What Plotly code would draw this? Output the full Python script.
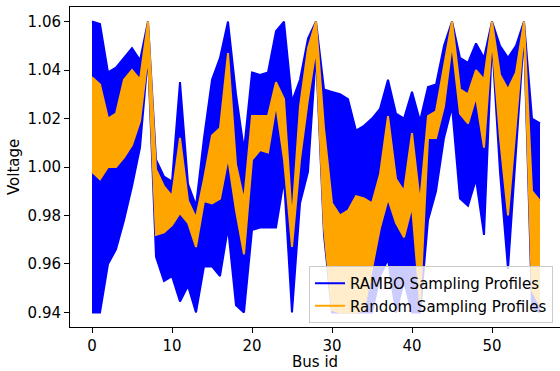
import plotly.graph_objects as go

bus_ids = list(range(57))

# RAMBO sampling profiles: upper / lower envelope of the blue bundle
rambo_upper = [1.060, 1.059, 1.039, 1.041, 1.045, 1.049, 1.044, 1.060, 1.003, 0.996,
               0.994, 1.035, 0.993, 0.984, 1.012, 1.036, 1.045, 1.060, 1.030, 1.007,
               1.039, 1.038, 1.039, 1.056, 1.060, 1.027, 1.036, 1.053, 1.060, 1.032,
               1.031, 1.030, 1.028, 1.015, 1.017, 1.020, 1.024, 1.036, 1.022, 1.020,
               1.031, 1.019, 1.033, 1.034, 1.050, 1.060, 1.045, 1.043, 1.051, 1.045,
               1.060, 1.050, 1.045, 1.050, 1.060, 1.020, 1.018]
rambo_lower = [0.940, 0.940, 0.960, 0.966, 0.978, 0.992, 1.008, 1.046, 0.963, 0.953,
               0.955, 0.9445, 0.951, 0.940, 0.959, 0.959, 0.955, 0.975, 0.943, 0.940,
               0.974, 0.975, 0.975, 0.975, 0.995, 0.940, 0.985, 0.998, 1.047, 0.972,
               0.940, 0.940, 0.940, 0.940, 0.940, 0.940, 0.955, 0.962, 0.940, 0.953,
               0.940, 0.940, 0.978, 0.990, 1.012, 1.025, 0.987, 0.984, 0.995, 0.972,
               1.052, 0.998, 0.958, 1.008, 1.055, 0.942, 0.940]

# Random sampling profiles: upper / lower envelope of the orange bundle
random_upper = [1.037, 1.034, 1.020, 1.022, 1.036, 1.040, 1.036, 1.060, 0.999, 0.992,
                0.988, 1.012, 0.986, 0.979, 0.995, 1.013, 1.016, 1.047, 1.001, 0.986,
                1.021, 1.021, 1.021, 1.035, 1.028, 0.978, 1.025, 1.049, 1.060, 1.016,
                0.985, 0.980, 0.982, 0.988, 0.987, 0.985, 0.997, 1.021, 0.995, 0.990,
                1.014, 0.985, 1.021, 1.023, 1.042, 1.060, 1.032, 1.030, 1.040, 1.036,
                1.060, 1.038, 1.032, 1.039, 1.060, 0.990, 0.986]
random_lower = [0.998, 0.995, 1.000, 1.000, 1.004, 1.009, 1.019, 1.046, 0.972, 0.973,
                0.976, 0.981, 0.977, 0.967, 0.986, 0.985, 0.987, 1.004, 0.982, 0.964,
                1.003, 1.007, 1.006, 1.026, 1.003, 0.967, 1.003, 1.028, 1.049, 0.975,
                0.941, 0.940, 0.940, 0.940, 0.941, 0.958, 0.975, 0.987, 0.977, 0.971,
                0.984, 0.944, 1.012, 1.012, 1.025, 1.051, 1.022, 1.018, 1.029, 1.008,
                1.053, 1.012, 0.980, 1.018, 1.057, 0.949, 0.943]

x_ticks = [0, 10, 20, 30, 40, 50]
y_ticks = [0.94, 0.96, 0.98, 1.00, 1.02, 1.04, 1.06]

BLUE = "#0000ff"
ORANGE = "#ffa500"
FONT = "DejaVu Sans"
FS = 15

fig = go.Figure()
fig.add_trace(go.Scatter(x=bus_ids, y=rambo_upper, mode="lines",
                         line=dict(color=BLUE, width=2),
                         name="RAMBO Sampling Profiles", showlegend=True))
fig.add_trace(go.Scatter(x=bus_ids, y=rambo_lower, mode="lines",
                         line=dict(color=BLUE, width=2), fill="tonexty",
                         fillcolor=BLUE, showlegend=False, hoverinfo="skip"))
fig.add_trace(go.Scatter(x=bus_ids, y=random_upper, mode="lines",
                         line=dict(color=ORANGE, width=2),
                         name="Random Sampling Profiles", showlegend=True))
fig.add_trace(go.Scatter(x=bus_ids, y=random_lower, mode="lines",
                         line=dict(color=ORANGE, width=2), fill="tonexty",
                         fillcolor=ORANGE, showlegend=False, hoverinfo="skip"))

fig.update_layout(
    width=560, height=371,
    margin=dict(l=70, r=0, t=7, b=44, autoexpand=False),
    paper_bgcolor="white", plot_bgcolor="white",
    font=dict(family=FONT, size=FS, color="black"),
    legend=dict(x=(309 - 70) / 490, y=(327 - 323) / 320,
                xanchor="left", yanchor="bottom",
                traceorder="normal",
                bgcolor="rgba(255,255,255,0.8)", bordercolor="#cccccc",
                borderwidth=1, font=dict(family=FONT, size=FS),
                tracegroupgap=0, itemwidth=30),
    xaxis=dict(range=[-2.75, 58.5], tickvals=x_ticks,
               ticktext=[str(v) for v in x_ticks], automargin=False,
               showgrid=False, zeroline=False, showline=True,
               linecolor="black", linewidth=1, mirror=True,
               ticks="outside", ticklen=5, tickwidth=1, tickcolor="black"),
    yaxis=dict(range=[0.934, 1.066], tickvals=y_ticks,
               ticktext=[f"{v:.2f}" for v in y_ticks], automargin=False,
               showgrid=False, zeroline=False, showline=True,
               linecolor="black", linewidth=1, mirror=False,
               ticks="outside", ticklen=5, tickwidth=1, tickcolor="black"),
    annotations=[
        dict(text="Bus id", xref="paper", yref="paper",
             x=0.5, y=-(362 - 327) / 320, xanchor="center", yanchor="middle",
             showarrow=False, font=dict(family=FONT, size=FS)),
        dict(text="Voltage", xref="paper", yref="paper",
             x=-(70 - 14) / 490, y=0.5, xanchor="center", yanchor="middle",
             textangle=-90, showarrow=False, font=dict(family=FONT, size=FS)),
    ],
)

fig.write_html("out.html",
               config={"displayModeBar": False},
               post_script="document.body.style.margin='0';"
                           "document.body.style.overflow='hidden';")
